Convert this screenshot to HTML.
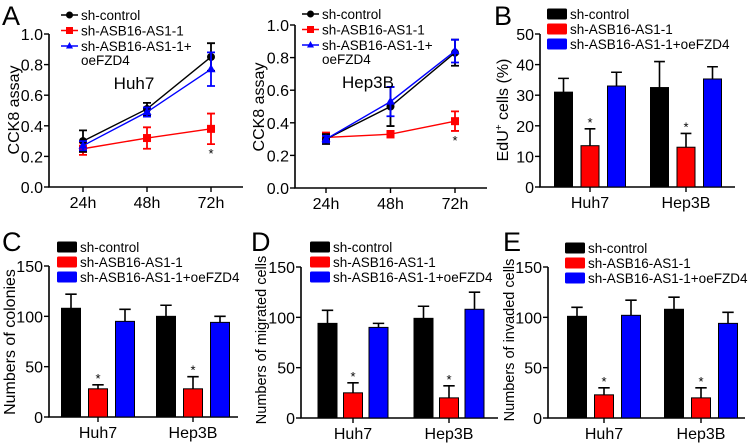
<!DOCTYPE html>
<html><head><meta charset="utf-8"><style>
html,body{margin:0;padding:0;background:#fff;}
svg{display:block;font-family:"Liberation Sans",Arial,sans-serif;}
</style></head><body>
<svg id="fig" width="753" height="443" viewBox="0 0 753 443"></svg>
<script>
// ---------- data ----------
const timeCats = ["24h","48h","72h"];
const lineSeriesNames = ["sh-control","sh-ASB16-AS1-1","sh-ASB16-AS1-1+"];
const huhCtrl = [0.30,0.51,0.85], huhCtrlErr = [0.07,0.04,0.09];
const huhSh = [0.25,0.32,0.38], huhShErr = [0.04,0.07,0.10];
const huhOe = [0.27,0.49,0.77], huhOeErr = [0.03,0.03,0.11];
const hepCtrl = [0.30,0.50,0.83], hepCtrlErr = [0.03,0.12,0.08];
const hepSh = [0.31,0.33,0.41], hepShErr = [0.03,0.02,0.06];
const hepOe = [0.30,0.53,0.84], hepOeErr = [0.02,0.09,0.07];
const cckTicks = ["0.0","0.2","0.4","0.6","0.8","1.0"];
const cellLines = ["Huh7","Hep3B"];
const barLegend = ["sh-control","sh-ASB16-AS1-1","sh-ASB16-AS1-1+oeFZD4"];
const eduVals = [[31,13.5,33],[32.5,13,35.3]], eduErr = [[4.5,5.5,4.5],[8.5,4.5,4]];
const eduTicks = [0,10,20,30,40,50];
const colVals = [[108,28,95],[100,28,94]], colErr = [[14,4,12],[11,12,6]];
const migVals = [[94,25,90],[99,20,108]], migErr = [[13,10,4],[12,12,17]];
const invVals = [[101,23,102],[108,20,94]], invErr = [[9,7,15],[12,10,11]];
const countTicks = [0,50,100,150];

// ---------- helpers ----------
const NS="http://www.w3.org/2000/svg";
const svg=document.getElementById('fig');
function mk(tag,attrs,parent,text){const e=document.createElementNS(NS,tag);for(const k in attrs)e.setAttribute(k,attrs[k]);if(text!==undefined)e.textContent=text;(parent||svg).appendChild(e);return e;}
const COLORS=["#000000","#ff0000","#0000ff"];
const TF=16, LF=13.5, YF=16;

function panelLetter(x,y,t){const e=mk('text',{x:x,y:y,'font-size':27},svg,t);

}

function yTitle(g,x,y,t,name,fs){const e=mk('text',{x:x,y:y,'font-size':fs||YF,'text-anchor':'middle',transform:`rotate(-90 ${x} ${y})`},g,t);

return e;}

function axes(g,x0,x1,y0,yTop,ticks,fmt,vmax){
 const ys=v=>y0-(v/vmax)*(y0-yTop);
 const ax=mk('path',{d:`M${x0} ${yTop}V${y0}H${x1}`,stroke:'#000','stroke-width':1.6,fill:'none'},g);
 
 
 ticks.forEach(t=>{const v=parseFloat(t);const y=ys(v);
  mk('line',{x1:x0-5,x2:x0,y1:y,y2:y,stroke:'#000','stroke-width':1.4},g);
  const l=mk('text',{x:x0-6,y:y+6,'font-size':TF,'text-anchor':'end'},g,fmt(t));
  
  });
 return ys;}

// ---------- line charts ----------
function lineChart(cfg){
 const g=mk('g',{});
 
 
 const ys=axes(g,cfg.x0,cfg.x1,cfg.y0,cfg.yTop,cckTicks,t=>t,1.0);
 const xs=i=>cfg.xFirst+i*cfg.xStep;
 timeCats.forEach((c,i)=>{mk('line',{x1:xs(i),x2:xs(i),y1:cfg.y0,y2:cfg.y0+5,stroke:'#000','stroke-width':1.4},g);
  const l=mk('text',{x:xs(i),y:cfg.y0+21,'font-size':TF,'text-anchor':'middle'},g,c);
  
  });
 const series=[[cfg.sh,cfg.shE,1],[cfg.ctrl,cfg.ctrlE,0],[cfg.oe,cfg.oeE,2]];
 series.forEach(([vals,errs,ci])=>{
  const col=COLORS[ci];
  const pts=vals.map((v,i)=>xs(i)+','+ys(v)).join(' ');
  const pl=mk('polyline',{points:pts,fill:'none',stroke:col,'stroke-width':1.4},g);
  
  
  vals.forEach((v,i)=>{const x=xs(i),y=ys(v),e=errs[i];
   mk('path',{d:`M${x-4} ${ys(v+e)}H${x+4}M${x} ${ys(v+e)}V${ys(v-e)}M${x-4} ${ys(v-e)}H${x+4}`,stroke:col,'stroke-width':1.8,fill:'none'},g);
   let m;
   if(ci===0)m=mk('circle',{cx:x,cy:y,r:4,fill:col},g);
   else if(ci===1)m=mk('rect',{x:x-4,y:y-4,width:8,height:8,fill:col},g);
   else m=mk('path',{d:`M${x} ${y-5}L${x+4.5} ${y+3}L${x-4.5} ${y+3}Z`,fill:col},g);
   
   });
 });
 const st=mk('text',{x:xs(2),y:ys(cfg.sh[2]-cfg.shE[2])+14,'font-size':13,'text-anchor':'middle'},g,'*');
 
 
 const tt=mk('text',{x:cfg.tx,y:cfg.ty,'font-size':17,'text-anchor':'middle'},g,cfg.title);
 
 
 yTitle(g,cfg.ytx,cfg.yty,'CCK8 assay','y-axis-title');
 const lg=mk('g',{},g);
 
 
 [0,1,2].forEach(i=>{const y=cfg.ly+i*15.5,x=cfg.lx;
  mk('line',{x1:x,x2:x+17,y1:y,y2:y,stroke:COLORS[i],'stroke-width':1.5},lg);
  if(i===0)mk('circle',{cx:x+8.5,cy:y,r:3.5,fill:COLORS[i]},lg);
  else if(i===1)mk('rect',{x:x+5,y:y-3.5,width:7,height:7,fill:COLORS[i]},lg);
  else mk('path',{d:`M${x+8.5} ${y-4}L${x+12} ${y+2.5}L${x+5} ${y+2.5}Z`,fill:COLORS[i]},lg);
  const t=mk('text',{x:x+20,y:y+5,'font-size':LF},lg,lineSeriesNames[i]);
  
  });
 mk('text',{x:cfg.lx+20,y:cfg.ly+2*15.5+19,'font-size':LF},lg,'oeFZD4');
}
lineChart({name:'cck8-huh7-chart',x0:49,x1:243,y0:187,yTop:34,xFirst:83,xStep:64,
 ctrl:huhCtrl,ctrlE:huhCtrlErr,sh:huhSh,shE:huhShErr,oe:huhOe,oeE:huhOeErr,
 title:'Huh7',tx:134,ty:89,ytx:19,yty:110,lx:61,ly:15});
lineChart({name:'cck8-hep3b-chart',x0:295,x1:487,y0:188,yTop:25,xFirst:326,xStep:64.5,
 ctrl:hepCtrl,ctrlE:hepCtrlErr,sh:hepSh,shE:hepShErr,oe:hepOe,oeE:hepOeErr,
 title:'Hep3B',tx:368,ty:88,ytx:264,yty:107,lx:302,ly:14});

// ---------- bar charts ----------
function barChart(cfg){
 const g=mk('g',{});
 
 
 const ys=axes(g,cfg.x0,cfg.x1,cfg.y0,cfg.yTop,cfg.ticks,t=>String(t),cfg.vmax);
 cellLines.forEach((c,gi)=>{const cx=cfg.centers[gi];
  mk('line',{x1:cx,x2:cx,y1:cfg.y0,y2:cfg.y0+5,stroke:'#000','stroke-width':1.4},g);
  const l=mk('text',{x:cx,y:cfg.y0+21,'font-size':TF,'text-anchor':'middle'},g,c);
  
  
  cfg.vals[gi].forEach((v,bi)=>{const bx=cx+(bi-1)*cfg.step,w=cfg.bw,e=cfg.errs[gi][bi];
   mk('path',{d:`M${bx} ${ys(v)}V${ys(v+e)}M${bx-w*0.3} ${ys(v+e)}H${bx+w*0.3}`,stroke:'#000','stroke-width':1.6},g);
   const r=mk('rect',{x:bx-w/2,y:ys(v),width:w,height:cfg.y0-ys(v),fill:COLORS[bi],stroke:'#000','stroke-width':1},g);
   
   
   if(bi===1){const s=mk('text',{x:bx,y:ys(v+e)-2,'font-size':13,'text-anchor':'middle'},g,'*');
    
    }
  });});
 if(cfg.ytitle) yTitle(g,cfg.ytx,cfg.yty,cfg.ytitle,'y-axis-title',cfg.yfs);
 const lg=mk('g',{},g);
 
 
 barLegend.forEach((n,i)=>{const y=cfg.ly+i*15;
  mk('rect',{x:cfg.lx,y:y-5.5,width:20,height:11,fill:COLORS[i],rx:1.5},lg);
  const t=mk('text',{x:cfg.lx+23,y:y+5,'font-size':LF},lg,n);
  
  });
 return g;
}
barChart({name:'edu-chart',x0:540,x1:735,y0:187,yTop:34,vmax:50,ticks:eduTicks,centers:[590,686],step:26.5,bw:18,
 vals:eduVals,errs:eduErr,ytitle:'',ytx:507,yty:110,lx:547,ly:14});
(function(){const x=508,y=110;const t=mk('text',{x:x,y:y,'font-size':YF,'text-anchor':'middle',transform:`rotate(-90 ${x} ${y})`});


mk('tspan',{},t,'EdU');mk('tspan',{'font-size':10,dy:-6},t,'+');mk('tspan',{dy:6},t,' cells (%)');})();
barChart({name:'colonies-chart',x0:49,x1:238,y0:417,yTop:266,vmax:150,ticks:countTicks,centers:[98,193],step:27,bw:19,
 vals:colVals,errs:colErr,ytitle:'Numbers of colonies',ytx:15,yty:342,lx:57,ly:247,yfs:16});
barChart({name:'migration-chart',x0:301,x1:498,y0:418,yTop:267,vmax:150,ticks:countTicks,centers:[353,449],step:25.5,bw:19,
 vals:migVals,errs:migErr,ytitle:'Numbers of migrated cells',ytx:266,yty:340,lx:310,ly:247,yfs:14.5});
barChart({name:'invasion-chart',x0:548,x1:745,y0:418,yTop:267,vmax:150,ticks:countTicks,centers:[604,701],step:27,bw:19,
 vals:invVals,errs:invErr,ytitle:'Numbers of invaded cells',ytx:514,yty:340,lx:565,ly:248,yfs:14.5});

panelLetter(2,25,'A');panelLetter(494,25,'B');panelLetter(2,251,'C');panelLetter(251,251,'D');panelLetter(503,251,'E');
</script>
</body></html>
